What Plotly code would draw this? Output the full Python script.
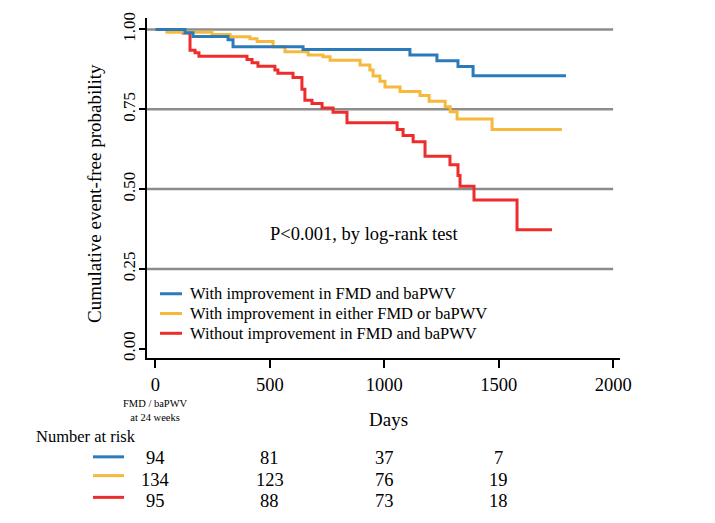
import plotly.graph_objects as go

# Kaplan-Meier steps (days, event-free probability)
blue_days = [0, 129, 164, 317, 339, 645, 1112, 1230, 1322, 1388, 1794]
blue_surv = [1.0, 0.990, 0.978, 0.968, 0.946, 0.937, 0.920, 0.902, 0.884, 0.855, 0.855]

orange_days = [0, 50, 247, 326, 413, 444, 514, 566, 667, 732, 763, 894, 937, 951,
               981, 1003, 1069, 1156, 1196, 1266, 1288, 1318, 1471, 1776]
orange_surv = [1.0, 0.991, 0.984, 0.977, 0.971, 0.962, 0.946, 0.930, 0.920, 0.915, 0.904,
               0.889, 0.873, 0.854, 0.838, 0.820, 0.806, 0.793, 0.775, 0.758, 0.742,
               0.720, 0.687, 0.687]

red_days = [0, 120, 151, 173, 190, 400, 422, 448, 522, 535, 601, 640, 653, 684, 728,
            776, 837, 1056, 1082, 1126, 1178, 1287, 1322, 1331, 1392, 1580, 1733]
red_surv = [1.0, 0.989, 0.935, 0.927, 0.916, 0.906, 0.896, 0.885, 0.873, 0.863, 0.850,
            0.813, 0.778, 0.768, 0.754, 0.741, 0.708, 0.687, 0.668, 0.648, 0.603, 0.576,
            0.543, 0.509, 0.466, 0.373, 0.373]

group_names = ["With improvement in FMD and baPWV",
               "With improvement in either FMD or baPWV",
               "Without improvement in FMD and baPWV"]
group_colors = ["#2b7bba", "#f6b93b", "#ee2c2c"]

risk_times = [0, 500, 1000, 1500]
risk_blue = [94, 81, 37, 7]
risk_orange = [134, 123, 76, 19]
risk_red = [95, 88, 73, 18]

x_ticks = [0, 500, 1000, 1500, 2000]
y_ticks = [0, 0.25, 0.5, 0.75, 1.0]
y_ticktext = ["0.00", "0.25", "0.50", "0.75", "1.00"]
grid_levels = [0.25, 0.5, 0.75, 1.0]

FONT = "Liberation Serif, Times New Roman, serif"

# plot area in pixels: left 147, right 620, top 14, bottom 358
L, R, T, B = 147, 620, 14, 358
W, H = 715, 523


def px(x):
    return (x - L) / (R - L)


def py(y):
    return (B - y) / (B - T)


def label(text, x, y, size, xref="paper", xanchor="center", **kw):
    return dict(x=x, y=y, xref=xref, yref="paper", text=text, showarrow=False,
                xanchor=xanchor, yanchor="middle",
                font=dict(size=size, family=FONT, color="black"), **kw)


fig = go.Figure()

# draw red first, blue on top
curves = [(red_days, red_surv, 2), (orange_days, orange_surv, 1), (blue_days, blue_surv, 0)]
for d, s, i in curves:
    fig.add_trace(go.Scatter(x=d, y=s, mode="lines", line_shape="hv",
                             line=dict(color=group_colors[i], width=3),
                             name=group_names[i], showlegend=False,
                             hoverinfo="skip"))

shapes = []
for g in grid_levels:
    shapes.append(dict(type="line", xref="x", yref="y", x0=-40, x1=2000, y0=g, y1=g,
                       line=dict(color="#8c8c8c", width=2.5), layer="below"))

annotations = []

# legend drawn by hand inside the plot
legend_py = [293, 313, 333]
for i in range(3):
    shapes.append(dict(type="line", xref="paper", yref="paper", x0=px(160), x1=px(182),
                       y0=py(legend_py[i]), y1=py(legend_py[i]),
                       line=dict(color=group_colors[i], width=3)))
    annotations.append(label(group_names[i], px(188), py(legend_py[i]), 16.5,
                             xanchor="left"))

annotations.append(label("P<0.001, by log-rank test", px(364), py(233), 18.5))
annotations.append(label("FMD / baPWV<br>at 24 weeks", 0, py(411), 10.5, xref="x"))
annotations.append(label("Days", px(388), py(420), 19))
annotations.append(label("Cumulative event-free probability", px(95), py(192), 19,
                         textangle=-90))

# number at risk table
annotations.append(label("Number at risk", px(34), py(437), 16.5, xanchor="left"))

risk_rows = [risk_blue, risk_orange, risk_red]
row_py = [459, 481, 503]
mark_py = [458, 477, 499]
for i, row in enumerate(risk_rows):
    shapes.append(dict(type="line", xref="paper", yref="paper", x0=px(93), x1=px(124),
                       y0=py(mark_py[i]), y1=py(mark_py[i]),
                       line=dict(color=group_colors[i], width=3)))
    for t, n in zip(risk_times, row):
        annotations.append(label(str(n), t, py(row_py[i]), 18.5, xref="x"))

fig.update_layout(
    width=W, height=H,
    margin=dict(l=L, r=W - R, t=T, b=H - B),
    paper_bgcolor="white", plot_bgcolor="white",
    font=dict(family=FONT, color="black"),
    shapes=shapes, annotations=annotations,
    xaxis=dict(range=[-37, 2030], tickvals=x_ticks, ticks="outside", ticklen=8,
               tickwidth=1.5, tickcolor="black", showline=True, linecolor="black",
               linewidth=1.5, showgrid=False, zeroline=False,
               tickfont=dict(size=18.5, family=FONT), ticklabelstandoff=1),
    yaxis=dict(range=[-0.029, 1.036], tickvals=y_ticks, ticktext=y_ticktext,
               tickangle=-90, ticks="outside", ticklen=6, tickwidth=1.5,
               tickcolor="black", showline=True, linecolor="black", linewidth=1.5,
               showgrid=False, zeroline=False, tickfont=dict(size=17, family=FONT),
               ticklabelstandoff=-3),
)

# page body has a default 8px margin; remove it so the figure sits at 0,0
fig.write_html("out.html", config={"displayModeBar": False},
               post_script="document.body.style.margin='0';")
